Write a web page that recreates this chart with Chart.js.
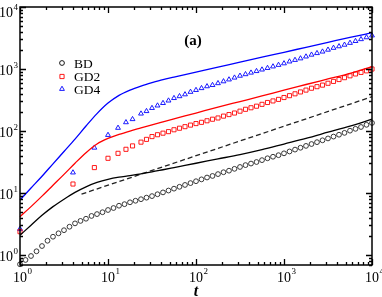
<!DOCTYPE html>
<html><head><meta charset="utf-8">
<script src="https://cdn.jsdelivr.net/npm/chart.js@4/dist/chart.umd.min.js"></script>
<style>html,body{margin:0;padding:0;background:#fff;overflow:hidden}canvas{display:block}</style>
</head><body>
<canvas id="c" width="382" height="297"></canvas>
<script>
// ---- data ----
const bdT = [1,1.155,1.334,1.540,1.778,2.054,2.371,2.738,3.162,3.652,4.217,4.870,5.623,6.494,7.499,8.660,10,11.55,13.34,15.40,17.78,20.54,23.71,27.38,31.62,36.52,42.17,48.70,56.23,64.94,74.99,86.60,100,115.5,133.4,154.0,177.8,205.4,237.1,273.8,316.2,365.2,421.7,487.0,562.3,649.4,749.9,866.0,1000,1155,1334,1540,1778,2054,2371,2738,3162,3652,4217,4870,5623,6494,7499,8660,10000];
const bdY = [0.708,0.832,0.964,1.148,1.396,1.698,1.972,2.239,2.512,2.858,3.236,3.548,3.846,4.266,4.571,4.898,5.321,5.728,6.237,6.607,7.079,7.499,7.943,8.414,8.913,9.55,10.23,10.96,11.75,12.59,13.49,14.45,15.49,16.6,17.78,18.84,20.18,21.63,22.91,24.55,26.3,28.18,29.85,31.62,33.88,36.31,38.46,40.74,43.65,46.77,50.12,53.7,57.54,61.66,66.07,70.79,75.86,81.28,87.1,93.33,101.2,108.4,116.1,125.9,134.9];
const gdT = [1,4,7,10,13,16,19,23.71,27.38,31.62,36.52,42.17,48.70,56.23,64.94,74.99,86.60,100,115.5,133.4,154.0,177.8,205.4,237.1,273.8,316.2,365.2,421.7,487.0,562.3,649.4,749.9,866.0,1000,1155,1334,1540,1778,2054,2371,2738,3162,3652,4217,4870,5623,6494,7499,8660,10000];
const gd2Y = [2.377,13.96,25.7,36.3,43.65,50.7,57.5,66.1,73.3,81.3,87.1,92.3,97.7,104.7,110.9,117.5,124.5,131.8,138.0,146.2,154.9,162.2,173.8,184.1,195.0,208.9,223.9,237.1,251.2,269.2,288.4,305.5,323.6,346.7,371.5,398.1,426.6,457.1,489.8,518.8,549.5,588.8,631.0,676.1,724.4,776.2,831.8,881.0,933.3,1000];
const gd4Y = [2.63,21.38,53.7,86.1,112.2,138.0,154.9,190.5,208.9,234.4,257.0,281.8,309.0,338.8,363.1,389.0,426.6,457.1,489.8,524.8,549.5,588.8,631.0,676.1,724.4,776.2,822.2,871.0,922.6,977.2,1035,1096,1161,1230,1318,1396,1479,1585,1698,1799,1905,2042,2188,2317,2455,2630,2818,3020,3236,3467];
const lineT = [1,1.334,1.778,2.371,3.162,4.217,5.623,7.499,10,13.34,17.78,23.71,31.62,42.17,56.23,74.99,100,177.8,316.2,562.3,1000,1778,3162,5623,10000];
const bdLine = [2.089,3.02,4.365,6.026,7.943,10.23,12.59,14.79,16.6,17.99,19.05,20.42,21.88,23.71,25.7,27.86,30.2,35.48,41.69,50.12,61.66,75.86,95.5,120.2,154.9];
const gd2Line = [4.15,6.03,8.91,13.34,19.95,30.2,44.67,61.66,75.86,88.1,100,112.2,125.9,140.6,156.7,175.0,195.0,242.7,298.5,367.3,457.1,562.3,691.8,851.1,1096];
const gd4Line = [7.71,12.02,18.62,29.51,46.77,74.13,120.2,190.5,281.8,375.8,457.1,530.9,602.6,676.1,741.3,812.8,891.3,1072,1288,1549,1862,2239,2692,3236,3846];
const dashT = [5, 10000];
const dashY = [9.6, 357];
const majorTicks = [1, 10, 100, 1000, 10000];
const tickExps = ['0', '1', '2', '3', '4'];
const legendLabels = ['BD', 'GD2', 'GD4'];
const axisTitle = 't';
const panelLabel = '(a)';

const pts = (xs, ys) => xs.map((x, i) => ({x: x, y: ys[i]}));
const SERIF = '"Liberation Serif", "DejaVu Serif", serif';
const BLUE = '#0000ff', RED = '#ff0000', BLACK = '#000000';

const deco = {
  id: 'deco',
  afterDraw(chart) {
    const ctx = chart.ctx, a = chart.chartArea;
    const xs = chart.scales.x, ys = chart.scales.y;
    ctx.save();
    ctx.strokeStyle = '#000';
    ctx.lineWidth = 1.3;
    for (let d = 1; d <= 10000; d *= 10) {
      for (let m = 1; m <= 9; m++) {
        const v = d * m;
        if (v > 10000) break;
        const px = Math.round(xs.getPixelForValue(v)) + 0.5;
        const len = m === 1 ? 6 : 3;
        ctx.beginPath();
        ctx.moveTo(px, a.bottom); ctx.lineTo(px, a.bottom - len);
        ctx.moveTo(px, a.top); ctx.lineTo(px, a.top + len);
        ctx.stroke();
      }
    }
    for (let d = 0.1; d <= 10000; d *= 10) {
      for (let m = 1; m <= 9; m++) {
        const v = d * m;
        if (v < ys.min - 1e-9 || v > 10000.001) continue;
        const py = Math.round(ys.getPixelForValue(v)) + 0.5;
        const len = (m === 1) ? 6 : 3;
        ctx.beginPath();
        ctx.moveTo(a.left, py); ctx.lineTo(a.left + len, py);
        ctx.moveTo(a.right, py); ctx.lineTo(a.right - len, py);
        ctx.stroke();
      }
    }
    ctx.lineWidth = 1.5;
    ctx.strokeRect(a.left, a.top, a.right - a.left, a.bottom - a.top);
    ctx.fillStyle = '#000';
    majorTicks.forEach((v, i) => {
      const px = xs.getPixelForValue(v);
      ctx.font = '14px ' + SERIF;
      ctx.textAlign = 'center'; ctx.textBaseline = 'alphabetic';
      const w = ctx.measureText('10').width;
      ctx.fillText('10', px, 282);
      ctx.font = '9px ' + SERIF;
      ctx.textAlign = 'left';
      ctx.fillText(tickExps[i], px + w / 2 + 0.5, 274);
    });
    majorTicks.forEach((v, i) => {
      let py = ys.getPixelForValue(v);
      if (i === majorTicks.length - 1) py += 4;
      ctx.font = '14px ' + SERIF;
      ctx.textAlign = 'right'; ctx.textBaseline = 'alphabetic';
      ctx.fillText('10', 13, py + 6);
      ctx.font = '9px ' + SERIF;
      ctx.textAlign = 'left';
      ctx.fillText(tickExps[i], 13.5, py - 1);
    });
    ctx.font = 'italic bold 16px ' + SERIF;
    ctx.textAlign = 'center';
    ctx.fillText(axisTitle, (a.left + a.right) / 2, 296);
    ctx.font = 'bold 15px ' + SERIF;
    ctx.fillText(panelLabel, 193, 45);
    const ly = [63, 76.5, 89];
    const lx = 62;
    ctx.lineWidth = 0.9;
    ctx.font = '13.5px ' + SERIF;
    ctx.textAlign = 'left'; ctx.textBaseline = 'middle';
    legendLabels.forEach((lab, i) => {
      const y = ly[i];
      ctx.beginPath();
      if (i === 0) {
        ctx.strokeStyle = BLACK;
        ctx.arc(lx, y, 2.4, 0, Math.PI * 2);
      } else if (i === 1) {
        ctx.strokeStyle = RED;
        ctx.rect(lx - 2.1, y - 2.1, 4.2, 4.2);
      } else {
        ctx.strokeStyle = BLUE;
        ctx.moveTo(lx, y - 2.8); ctx.lineTo(lx + 2.4, y + 1.4); ctx.lineTo(lx - 2.4, y + 1.4); ctx.closePath();
      }
      ctx.stroke();
      ctx.fillStyle = '#000';
      ctx.fillText(lab, 74, y + 1);
    });
    ctx.restore();
  }
};

const lineDs = (data, color, extra) => Object.assign({
  data: data, showLine: true, borderColor: color, borderWidth: 1.3,
  pointRadius: 0, fill: false, cubicInterpolationMode: 'monotone', clip: false
}, extra || {});
const markDs = (data, color, style, r) => ({
  data: data, showLine: false, borderColor: color, backgroundColor: 'rgba(0,0,0,0)',
  pointStyle: style, pointRadius: r, pointBorderWidth: 0.9, clip: false
});

new Chart(document.getElementById('c'), {
  type: 'scatter',
  data: {
    datasets: [
      lineDs(pts(lineT, gd4Line), BLUE),
      lineDs(pts(lineT, gd2Line), RED),
      lineDs(pts(lineT, bdLine), BLACK),
      lineDs(pts(dashT, dashY), '#222', {borderDash: [5, 3], cubicInterpolationMode: 'default'}),
      markDs(pts(bdT, bdY), '#222', 'circle', 2.4),
      markDs(pts(gdT, gd2Y), RED, 'rect', 2.9),
      markDs(pts(gdT, gd4Y), BLUE, 'triangle', 2.8)
    ]
  },
  options: {
    responsive: false, devicePixelRatio: 1, animation: false,
    layout: {padding: {left: 20, right: 10, top: 7, bottom: 32}},
    plugins: {legend: {display: false}, tooltip: {enabled: false}},
    scales: {
      x: {type: 'logarithmic', min: 1, max: 10000, display: false},
      y: {type: 'logarithmic', min: 0.69, max: 10000, display: false}
    }
  },
  plugins: [deco]
});
</script>
</body></html>
